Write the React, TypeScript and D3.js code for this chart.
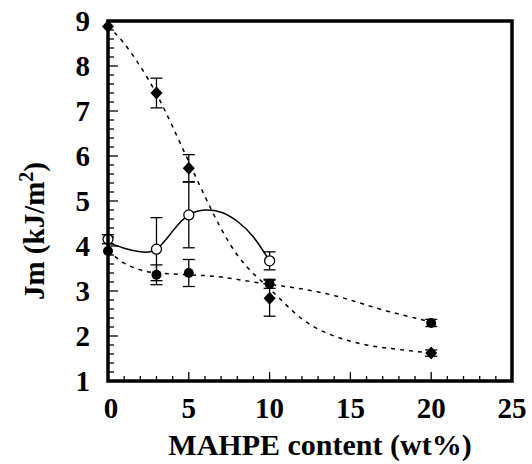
import React from "react";
import * as d3 from "d3";

const W = 532;
const H = 464;

// Measured data (MAHPE content, wt%)
const contentX = [0, 3, 5, 10, 20];
const diamondY = [8.88, 7.4, 5.73, 2.84, 1.62];
const diamondErr = [0, 0.33, 0.3, 0.4, 0.07];
const filledY = [3.89, 3.36, 3.4, 3.16, 2.29];
const filledErr = [0, 0.22, 0.3, 0.1, 0.08];
const openX = [0, 3, 5, 10];
const openY = [4.15, 3.93, 4.69, 3.67];
const openErr = [0.1, 0.7, 0.73, 0.2];

// Fitted guide curves
const diamondFitX = [0, 1, 2.5, 4, 6, 8, 10, 12, 14, 16, 18, 20];
const diamondFitY = [8.88, 8.5, 7.7, 6.65, 5.1, 3.8, 3.05, 2.38, 2.0, 1.8, 1.7, 1.62];
const filledFitX = [0, 1, 2, 3, 5, 7, 9, 11, 13, 15, 17, 19, 20];
const filledFitY = [3.9, 3.62, 3.47, 3.4, 3.36, 3.31, 3.2, 3.1, 2.98, 2.8, 2.58, 2.4, 2.3];
const openFitX = [0, 1, 2, 3, 4, 5, 6, 7, 8, 9, 10];
const openFitY = [4.08, 3.95, 3.87, 3.93, 4.33, 4.69, 4.8, 4.75, 4.55, 4.2, 3.67];

const xTickLabels = [0, 5, 10, 15, 20, 25];
const yTickLabels = [1, 2, 3, 4, 5, 6, 7, 8, 9];

const textStyle: React.CSSProperties = {
  fontFamily: "Liberation Serif",
  fontWeight: 700,
  fontSize: 29,
};

export default function App() {
  const left = 108, right = 512, top = 21, bottom = 381;
  const x = d3.scaleLinear().domain([0, 25]).range([left, right]);
  const y = d3.scaleLinear().domain([1, 9]).range([bottom, top]);

  const line = d3
    .line<[number, number]>()
    .x((d) => x(d[0]))
    .y((d) => y(d[1]))
    .curve(d3.curveNatural);

  const zip = (a: number[], b: number[]) => a.map((v, i) => [v, b[i]] as [number, number]);

  const yMinor = d3.range(1, 9.001, 0.2);
  const xMinor = d3.range(0, 25.001, 1);

  const errBar = (cx: number, cy: number, e: number, key: string) => {
    if (!e) return null;
    const px = x(cx);
    const y1 = y(cy + e);
    const y2 = y(cy - e);
    return (
      <g key={key} stroke="#000" strokeWidth={1.3}>
        <line x1={px} x2={px} y1={y1} y2={y2} />
        <line x1={px - 6} x2={px + 6} y1={y1} y2={y1} />
        <line x1={px - 6} x2={px + 6} y1={y2} y2={y2} />
      </g>
    );
  };

  const diamond = (cx: number, cy: number, key: string) => {
    const px = x(cx), py = y(cy), r = 6.5;
    return (
      <path
        key={key}
        d={`M${px},${py - r}L${px + r - 0.5},${py}L${px},${py + r}L${px - r + 0.5},${py}Z`}
        fill="#000"
      />
    );
  };

  return (
    <svg
      width={W}
      height={H}
      style={{ position: "absolute", left: 0, top: 0, background: "#fff" }}
    >
      <rect x={0} y={0} width={W} height={H} fill="#fff" />

      {yMinor.map((v, i) => {
        const major = Math.abs(v - Math.round(v)) < 1e-6;
        return (
          <line
            key={"yt" + i}
            stroke="#000"
            strokeWidth={1.3}
            x1={left}
            x2={left + (major ? 10 : 6)}
            y1={y(v)}
            y2={y(v)}
          />
        );
      })}
      {xMinor.map((v, i) => {
        const major = v % 5 === 0;
        return (
          <line
            key={"xt" + i}
            stroke="#000"
            strokeWidth={1.3}
            x1={x(v)}
            x2={x(v)}
            y1={bottom}
            y2={bottom - (major ? 9 : 5)}
          />
        );
      })}

      <path
        d={line(zip(diamondFitX, diamondFitY)) || ""}
        fill="none"
        stroke="#000"
        strokeWidth={1.5}
        strokeDasharray="4,5"
      />
      <path
        d={line(zip(filledFitX, filledFitY)) || ""}
        fill="none"
        stroke="#000"
        strokeWidth={1.5}
        strokeDasharray="4,5"
      />
      <path
        d={line(zip(openFitX, openFitY)) || ""}
        fill="none"
        stroke="#000"
        strokeWidth={1.5}
      />

      {contentX.map((cx, i) => errBar(cx, diamondY[i], diamondErr[i], "de" + i))}
      {contentX.map((cx, i) => errBar(cx, filledY[i], filledErr[i], "fe" + i))}
      {openX.map((cx, i) => errBar(cx, openY[i], openErr[i], "oe" + i))}

      {openX.map((cx, i) => (
        <circle
          key={"o" + i}
          cx={x(cx)}
          cy={y(openY[i])}
          r={5}
          fill="#fff"
          stroke="#000"
          strokeWidth={1.3}
        />
      ))}
      {contentX.map((cx, i) => (
        <circle key={"f" + i} cx={x(cx)} cy={y(filledY[i])} r={5} fill="#000" />
      ))}
      {contentX.map((cx, i) => diamond(cx, diamondY[i], "d" + i))}

      <rect
        x={left}
        y={top}
        width={right - left}
        height={bottom - top}
        fill="none"
        stroke="#000"
        strokeWidth={3.5}
      />

      {yTickLabels.map((v) => (
        <text key={"yl" + v} x={90} y={y(v)} dy="0.35em" textAnchor="end" style={textStyle}>
          {v}
        </text>
      ))}
      {xTickLabels.map((v) => (
        <text
          key={"xl" + v}
          x={x(v) + (v === 0 ? 3 : 0)}
          y={418}
          textAnchor="middle"
          style={textStyle}
        >
          {v}
        </text>
      ))}

      <text x={320} y={455} textAnchor="middle" style={{ ...textStyle, fontSize: 30 }}>
        MAHPE content (wt%)
      </text>
      <text transform="translate(44,231) rotate(-90)" textAnchor="middle" style={textStyle}>
        Jm (kJ/m
        <tspan dy={-11} style={{ fontSize: 20 }}>2</tspan>
        <tspan dy={11}>)</tspan>
      </text>
    </svg>
  );
}
